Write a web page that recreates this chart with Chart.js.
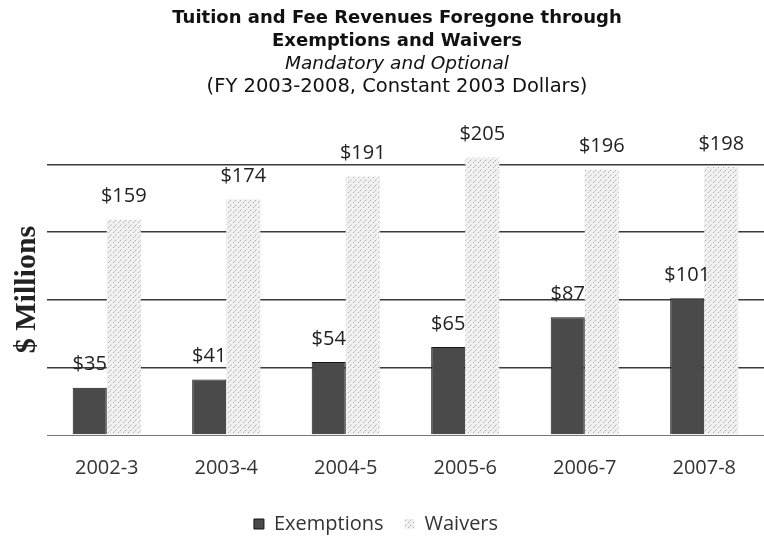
<!DOCTYPE html>
<html>
<head>
<meta charset="utf-8">
<script src="https://cdn.jsdelivr.net/npm/chart.js@4/dist/chart.umd.min.js"></script>
<style>
  body { margin: 0; background: #fff; }
  #wrap { position: relative; width: 764px; height: 540px; }
  #head {
    position: absolute; left: 15px; top: 5px; width: 764px; text-align: center;
    font-family: "DejaVu Sans", Verdana, sans-serif; color: #111; line-height: 23px;
  }
  #head .b { font-weight: bold; font-size: 18px; }
  #head .i { font-style: italic; font-size: 18.5px; }
  #head .n { font-size: 19.5px; }
</style>
</head>
<body>
<div id="wrap">
  <div id="head">
    <div class="b">Tuition and Fee Revenues Foregone through</div>
    <div class="b">Exemptions and Waivers</div>
    <div class="i">Mandatory and Optional</div>
    <div class="n">(FY 2003-2008, Constant 2003 Dollars)</div>
  </div>
  <canvas id="chart" width="764" height="540"></canvas>
</div>
<script>
const years = ["2002-3", "2003-4", "2004-5", "2005-6", "2006-7", "2007-8"];
const exemptions = [35, 41, 54, 65, 87, 101];
const waivers = [159, 174, 191, 205, 196, 198];
const gridValues = [50, 100, 150, 200];

// sparse grey dots, like the scanned waiver bars
function stipple() {
  const c = document.createElement("canvas");
  c.width = 5;
  c.height = 5;
  const g = c.getContext("2d");
  g.fillStyle = "#f1f1f1";
  g.fillRect(0, 0, 5, 5);
  g.fillStyle = "#b0b0b0";
  g.fillRect(0, 0, 1, 1);
  g.fillRect(3, 2, 1, 1);
  g.fillStyle = "#d2d2d2";
  g.fillRect(1, 4, 1, 1);
  g.fillRect(4, 1, 1, 1);
  return g.createPattern(c, "repeat");
}

// draws "$nn" above every bar
const valueLabels = {
  id: "valueLabels",
  afterDatasetsDraw(chart) {
    const ctx = chart.ctx;
    ctx.save();
    ctx.font = "20px 'Open Sans'";
    ctx.fillStyle = "#222";
    ctx.textAlign = "center";
    ctx.textBaseline = "middle";
    chart.data.datasets.forEach((ds, i) => {
      chart.getDatasetMeta(i).data.forEach((bar, j) => {
        ctx.fillText("$" + ds.data[j], bar.x, bar.y - 23);
      });
    });
    ctx.restore();
  },
};

// legend sits a little left of centre in the original
const legendShift = {
  id: "legendShift",
  afterLayout(chart) {
    if (chart.legend) {
      chart.legend.left -= 10;
      chart.legend.right -= 10;
    }
  },
};

new Chart(document.getElementById("chart").getContext("2d"), {
  type: "bar",
  data: {
    labels: years,
    datasets: [
      {
        label: "Exemptions",
        data: exemptions,
        backgroundColor: "#4a4a4a",
        borderColor: "#151515",
        borderWidth: 1,
      },
      {
        label: "Waivers",
        data: waivers,
        backgroundColor: stipple(),
        borderWidth: 0,
      },
    ],
  },
  options: {
    responsive: false,
    animation: false,
    layout: { padding: { top: 144, left: 8, right: 0, bottom: -4 } },
    datasets: { bar: { categoryPercentage: 0.57, barPercentage: 1 } },
    scales: {
      x: {
        grid: { display: false },
        border: { color: "#777", width: 1 },
        ticks: {
          padding: 13,
          color: "#333",
          font: { family: "Open Sans", size: 20 },
        },
      },
      y: {
        min: 0,
        max: 215,
        ticks: { display: false, stepSize: 50 },
        border: { display: false },
        grid: {
          drawTicks: false,
          lineWidth: 1.5,
          color: (c) =>
            gridValues.includes(c.tick.value) ? "#3a3a3a" : "rgba(0,0,0,0)",
        },
        title: {
          display: true,
          text: "$ Millions",
          color: "#222",
          padding: { top: 1, bottom: 2 },
          font: { family: "Liberation Serif", size: 30, weight: "bold" },
        },
      },
    },
    plugins: {
      legend: {
        position: "bottom",
        labels: {
          boxWidth: 10,
          boxHeight: 10,
          padding: 21,
          color: "#333",
          font: { family: "Open Sans", size: 20 },
        },
      },
      tooltip: { enabled: false },
    },
  },
  plugins: [valueLabels, legendShift],
});
</script>
</body>
</html>
